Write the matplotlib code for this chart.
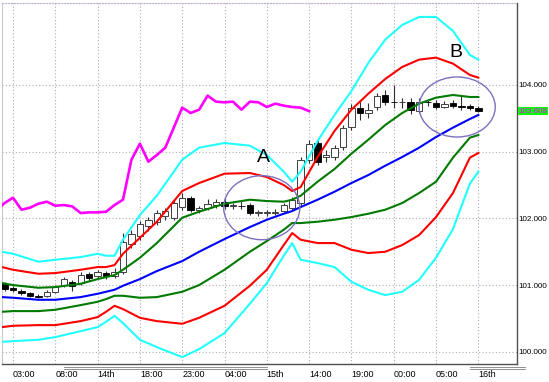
import numpy as np
import matplotlib
import matplotlib.pyplot as plt
from matplotlib.patches import Ellipse
from matplotlib.lines import Line2D

matplotlib.use('Agg')

# candles, bar index -1 .. 55
bar_open = [101.02, 100.96, 100.91, 100.88, 100.84, 100.84, 100.90, 101.00, 101.05, 101.03,
            101.17, 101.14, 101.18, 101.14, 101.20, 101.62, 101.74, 101.89, 101.95, 102.04,
            102.01, 102.17, 102.31, 102.13, 102.15, 102.20, 102.25, 102.19, 102.19, 102.20,
            102.08, 102.08, 102.08, 102.11, 102.16, 102.23, 102.88, 103.13, 102.92, 102.92,
            103.07, 103.37, 103.66, 103.58, 103.67, 103.85, 103.75, 103.74, 103.75, 103.61,
            103.75, 103.73, 103.67, 103.73, 103.69, 103.69, 103.66]
bar_high = [101.05, 100.99, 100.94, 100.90, 100.87, 100.93, 101.00, 101.12, 101.08, 101.20,
            101.20, 101.23, 101.21, 101.26, 101.78, 101.83, 101.96, 102.02, 102.13, 102.16,
            102.28, 102.38, 102.34, 102.19, 102.29, 102.29, 102.31, 102.23, 102.28, 102.23,
            102.13, 102.13, 102.14, 102.23, 102.32, 102.92, 103.18, 103.21, 103.03, 103.10,
            103.40, 103.72, 103.78, 103.73, 103.88, 103.93, 104.00, 103.81, 103.81, 103.81,
            103.79, 103.78, 103.76, 103.78, 103.85, 103.72, 103.69]
bar_low = [100.91, 100.90, 100.85, 100.82, 100.81, 100.82, 100.88, 100.97, 100.91, 101.00,
           101.06, 101.11, 101.09, 101.11, 101.17, 101.56, 101.68, 101.81, 101.90, 101.98,
           101.98, 102.13, 102.10, 102.08, 102.13, 102.16, 102.14, 102.14, 102.14, 102.05,
           102.04, 102.04, 102.05, 102.10, 102.13, 102.20, 102.83, 102.80, 102.85, 102.88,
           103.03, 103.33, 103.48, 103.51, 103.63, 103.70, 103.66, 103.66, 103.57, 103.58,
           103.69, 103.64, 103.66, 103.66, 103.63, 103.63, 103.60]
bar_close = [100.94, 100.93, 100.88, 100.84, 100.82, 100.90, 100.97, 101.09, 100.99, 101.15,
             101.11, 101.20, 101.14, 101.20, 101.65, 101.77, 101.92, 101.98, 102.08, 102.11,
             102.23, 102.31, 102.13, 102.16, 102.22, 102.25, 102.19, 102.20, 102.18, 102.08,
             102.09, 102.09, 102.10, 102.20, 102.28, 102.88, 103.12, 102.85, 102.95, 103.06,
             103.36, 103.66, 103.58, 103.63, 103.84, 103.75, 103.74, 103.75, 103.63, 103.75,
             103.74, 103.67, 103.72, 103.69, 103.67, 103.66, 103.608]

# close of bar 18 (left edge) for the lagging line
close_18 = 102.11

# band samples (bar index)
band_x = [-1.3, 0, 3, 5, 8, 10, 11, 12, 13, 15, 17, 20, 22, 25, 28, 30, 32, 33, 34, 36,
          38, 40, 42, 44, 46, 48, 50, 52, 54, 55]
mid = [100.82, 100.81, 100.78, 100.78, 100.82, 100.87, 100.90, 100.93, 100.99, 101.09,
       101.21, 101.36, 101.50, 101.69, 101.87, 101.98, 102.07, 102.11, 102.17, 102.28,
       102.40, 102.53, 102.65, 102.79, 102.92, 103.06, 103.22, 103.36, 103.49, 103.55]
up1 = [101.03, 101.00, 100.96, 100.97, 101.02, 101.09, 101.12, 101.15, 101.23, 101.41,
       101.63, 102.01, 102.10, 102.22, 102.28, 102.26, 102.25, 102.28, 102.34, 102.55,
       102.74, 102.97, 103.18, 103.40, 103.58, 103.72, 103.81, 103.85, 103.82, 103.82]
up2 = [101.27, 101.23, 101.17, 101.18, 101.23, 101.27, 101.27, 101.30, 101.47, 101.71,
       101.95, 102.41, 102.53, 102.67, 102.68, 102.62, 102.50, 102.41, 102.47, 102.92,
       103.31, 103.63, 103.87, 104.09, 104.27, 104.38, 104.41, 104.32, 104.15, 104.11]
up3 = [101.50, 101.47, 101.35, 101.38, 101.42, 101.47, 101.44, 101.44, 101.68, 102.05,
       102.34, 102.88, 103.06, 103.13, 103.09, 102.95, 102.70, 102.55, 102.70, 103.16,
       103.55, 103.91, 104.33, 104.68, 104.90, 105.02, 105.02, 104.81, 104.45, 104.38]
dn1 = [100.60, 100.61, 100.61, 100.63, 100.70, 100.75, 100.79, 100.84, 100.84, 100.81,
       100.82, 100.90, 101.00, 101.23, 101.50, 101.66, 101.83, 101.93, 101.93, 101.95,
       101.98, 102.02, 102.07, 102.13, 102.23, 102.38, 102.55, 102.91, 103.21, 103.25]
dn2 = [100.37, 100.39, 100.40, 100.40, 100.46, 100.52, 100.60, 100.69, 100.64, 100.51,
       100.46, 100.42, 100.51, 100.69, 100.99, 101.23, 101.60, 101.78, 101.68, 101.63,
       101.63, 101.53, 101.48, 101.50, 101.60, 101.75, 102.02, 102.38, 102.91, 102.98]
dn3 = [100.15, 100.16, 100.18, 100.22, 100.31, 100.37, 100.45, 100.54, 100.43, 100.18,
       100.07, 99.92, 100.04, 100.28, 100.72, 101.03, 101.44, 101.63, 101.38, 101.33,
       101.27, 101.05, 100.93, 100.85, 100.90, 101.08, 101.41, 101.84, 102.52, 102.70]

tick_pos = [0, 5, 10, 15, 20, 25, 30, 35, 40, 45, 50, 55]
tick_labels = ['03:00', '08:00', '14th', '18:00', '23:00', '04:00', '15th',
               '14:00', '19:00', '00:00', '05:00', '16th']
price_ticks = [100, 101, 102, 103, 104]
last_price = 103.608

plt.rcParams['font.family'] = ['Liberation Sans Narrow', 'Liberation Sans', 'DejaVu Sans']

fig = plt.figure(figsize=(5.49, 3.82), dpi=100)
ax = fig.add_axes([2 / 549, 18 / 382, 515 / 549, 361 / 382])
ax.set_xlim(-1.3, 59.57)
ax.set_ylim(99.817, 105.229)

# grid
for x in tick_pos:
    ax.axvline(x, color='#b0a8c0', lw=0.8, ls=(0, (1, 2)), zorder=0)
for y in price_ticks:
    ax.axhline(y, color='#b8a8b8', lw=0.8, ls=(0, (1, 2)), zorder=0)

# candles
idx = np.arange(-1, 56)
opens = np.array(bar_open)
highs = np.array(bar_high)
lows = np.array(bar_low)
closes = np.array(bar_close)

ax.vlines(idx, lows, highs, color='#303030', lw=0.8, zorder=2)
for i, op, cl in zip(idx, opens, closes):
    lo_b = min(op, cl)
    h = max(abs(cl - op), 0.012)
    if cl < op:
        ax.bar(i, h, bottom=lo_b, width=0.75, color='black', edgecolor='black', lw=0.6, zorder=3)
    else:
        ax.bar(i, h, bottom=lo_b, width=0.75, color='white', edgecolor='#404040', lw=0.7, zorder=3)

# bands
ax.plot(band_x, up3, color='#22ffff', lw=1.5, zorder=4)
ax.plot(band_x, dn3, color='#22ffff', lw=1.5, zorder=4)
ax.plot(band_x, up2, color='#ff0000', lw=1.5, zorder=4)
ax.plot(band_x, dn2, color='#ff0000', lw=1.5, zorder=4)
ax.plot(band_x, up1, color='#007a00', lw=1.5, zorder=4)
ax.plot(band_x, dn1, color='#007a00', lw=1.5, zorder=4)
ax.plot(band_x, mid, color='#0000ff', lw=1.5, zorder=4)

# lagging line: closes shifted 20 bars back
lag_x = np.concatenate([[-2], idx[20:] - 20])
lag_y = np.concatenate([[close_18], closes[20:]])
ax.plot(lag_x, lag_y, color='#ff00ff', lw=1.9, zorder=5)

# annotations
ax.add_patch(Ellipse((29.4, 102.16), 9.0, 0.96, fill=False, ec='#7b70c0', lw=1.0, zorder=6))
ax.add_patch(Ellipse((52.5, 103.67), 9.0, 0.90, fill=False, ec='#7b70c0', lw=1.0, zorder=6))
ax.text(29.55, 102.92, 'A', fontsize=14, family='Liberation Sans', ha='center', va='center', zorder=7)
ax.text(52.4, 104.49, 'B', fontsize=14, family='Liberation Sans', ha='center', va='center', zorder=7)

# axes styling
ax.set_xticks(tick_pos)
ax.set_xticklabels(tick_labels, ha='left', fontsize=6.5)
ax.yaxis.tick_right()
ax.set_yticks(price_ticks)
ax.set_yticklabels(['%.3f' % v for v in price_ticks], fontsize=5.8)
ax.tick_params(axis='y', length=0, pad=1.2)
ax.tick_params(axis='x', length=0, pad=4)
for side in ['right', 'bottom']:
    ax.spines[side].set_color('#505050')
    ax.spines[side].set_linewidth(1.0)
ax.spines['left'].set_color('#c8c8c8')
ax.spines['top'].set_color('#c0b0c8')
ax.spines['top'].set_linestyle(':')

ax.text(1.003, (last_price - 99.817) / (105.229 - 99.817), '%.3f' % last_price,
        transform=ax.transAxes, fontsize=5.8, color='#ff00ff', ha='left', va='center',
        bbox=dict(boxstyle='square,pad=0.1', fc='#00ff00', ec='none'))

# scrollbar strips under the chart
for x0, x1 in [(64, 267), (470, 525)]:
    for yy in [366.5, 368.5]:
        fig.add_artist(Line2D([x0 / 549, x1 / 549], [1 - yy / 382, 1 - yy / 382],
                              color='#909090', lw=0.7))

plt.savefig('out.png', dpi=100)
